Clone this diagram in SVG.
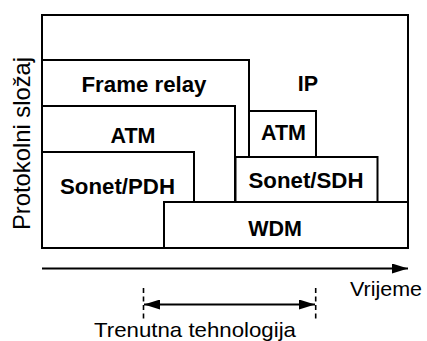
<svg xmlns="http://www.w3.org/2000/svg" width="427" height="341" viewBox="0 0 427 341">
  <defs>
    <style>
      .layer { fill: #fff; stroke: #000; stroke-width: 2; }
      .lbl { font-family: "Liberation Sans", Arial, Helvetica, sans-serif; font-size: 21.5px; font-weight: bold; fill: #000; text-anchor: middle; }
      .axis { font-family: "Liberation Sans", Arial, Helvetica, sans-serif; font-size: 21px; fill: #000; }
      .line { stroke: #000; stroke-width: 2; fill: none; }
      .dash { stroke: #000; stroke-width: 1.6; stroke-dasharray: 5 3.5; fill: none; }
    </style>
    <marker id="head" viewBox="0 0 16 10" refX="16" refY="5" markerWidth="16" markerHeight="10" markerUnits="userSpaceOnUse" orient="auto-start-reverse">
      <path d="M0,0 L16,5 L0,10 Z" fill="#000"/>
    </marker>
  </defs>

  <!-- protocol stack layers, back to front -->
  <g id="ip">
    <rect class="layer" x="42" y="15" width="366" height="233"/>
    <text class="lbl" x="308" y="91">IP</text>
  </g>
  <g id="frame-relay">
    <rect class="layer" x="42" y="60" width="207" height="188"/>
    <text class="lbl" x="144" y="92" textLength="125" lengthAdjust="spacingAndGlyphs">Frame relay</text>
  </g>
  <g id="atm-left">
    <rect class="layer" x="42" y="106" width="193" height="142"/>
    <text class="lbl" x="133" y="143">ATM</text>
  </g>
  <g id="sonet-pdh">
    <rect class="layer" x="42" y="152" width="152" height="96"/>
    <text class="lbl" x="117.5" y="193.5" textLength="115" lengthAdjust="spacingAndGlyphs">Sonet/PDH</text>
  </g>
  <g id="atm-right">
    <rect class="layer" x="249" y="111" width="67" height="60"/>
    <text class="lbl" x="283.5" y="140">ATM</text>
  </g>
  <g id="sonet-sdh">
    <rect class="layer" x="235.5" y="157" width="142" height="91"/>
    <text class="lbl" x="306" y="188" textLength="115" lengthAdjust="spacingAndGlyphs">Sonet/SDH</text>
  </g>
  <g id="wdm">
    <rect class="layer" x="164" y="202" width="244" height="46"/>
    <text class="lbl" x="275" y="236">WDM</text>
  </g>

  <!-- time axis and the current-technology span -->
  <g id="connectors">
    <line class="line" x1="42" y1="268.5" x2="408" y2="268.5" marker-end="url(#head)"/>
    <line class="dash" x1="143.5" y1="288" x2="143.5" y2="321"/>
    <line class="dash" x1="315.7" y1="288" x2="315.7" y2="321"/>
    <line class="line" x1="144" y1="304.5" x2="315" y2="304.5" marker-start="url(#head)" marker-end="url(#head)"/>
  </g>

  <text class="axis" x="350" y="296" textLength="72" lengthAdjust="spacingAndGlyphs">Vrijeme</text>
  <text class="axis" x="94" y="337" textLength="202" lengthAdjust="spacingAndGlyphs">Trenutna tehnologija</text>
  <text class="axis" style="font-size:24px" transform="translate(30,143.5) rotate(-90)" text-anchor="middle" textLength="173" lengthAdjust="spacingAndGlyphs">Protokolni složaj</text>
</svg>
